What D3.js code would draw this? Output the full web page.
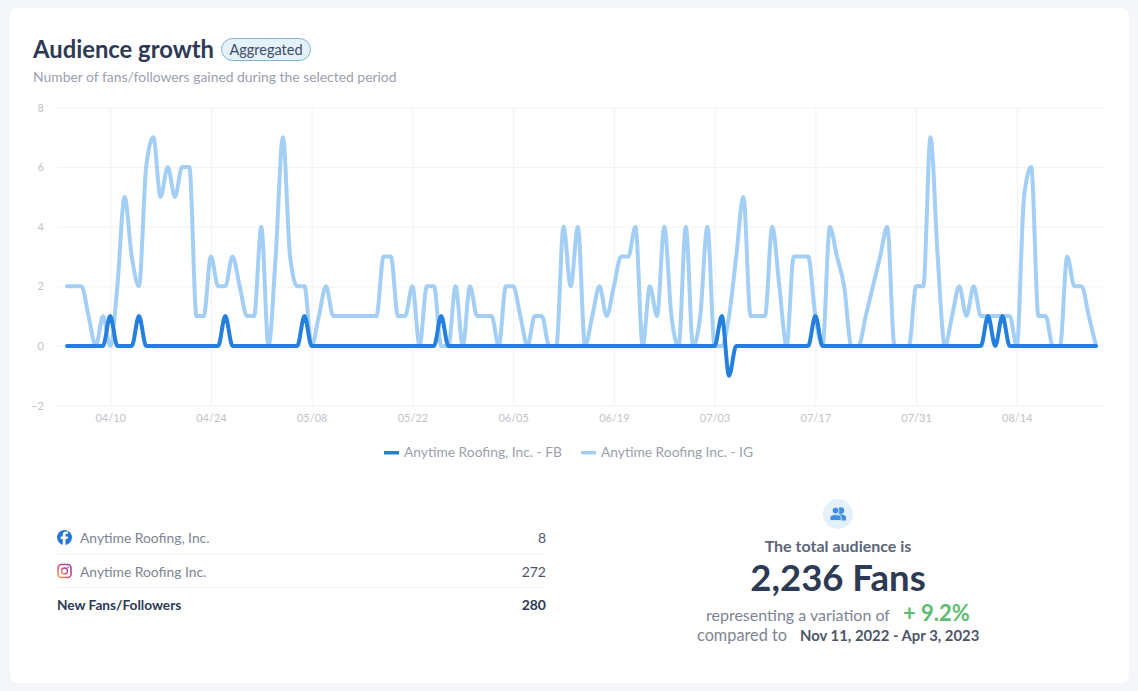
<!DOCTYPE html>
<html>
<head>
<meta charset="utf-8">
<title>Audience growth</title>
<script src="https://cdn.jsdelivr.net/npm/d3@7"></script>
<style>
  body { margin: 0; background: #f5f6f9; }
  svg { display: block; }
  text { font-family: Lato, "Noto Sans", sans-serif; }
  .domain { display: none; }
</style>
</head>
<body>
<div id="chart"></div>
<script>
const startDate = '2023-04-04';
const tickDates = ['2023-04-10', '2023-04-24', '2023-05-08', '2023-05-22', '2023-06-05',
  '2023-06-19', '2023-07-03', '2023-07-17', '2023-07-31', '2023-08-14'];
const yTicks = [-2, 0, 2, 4, 6, 8];

// one value per day from 04/04 to 08/25
const igValues = [
  2, 2, 2, 1, 0, 1, 0, 2, 5, 3, 2, 6, 7, 5, 6, 5, 6, 6, 1, 1,
  3, 2, 2, 3, 2, 1, 1, 4, 0, 3, 7, 3, 2, 2, 0, 1, 2, 1, 1, 1,
  1, 1, 1, 1, 3, 3, 1, 1, 2, 0, 2, 2, 0, 0, 2, 0, 2, 1, 1, 1,
  0, 2, 2, 1, 0, 1, 1, 0, 0, 4, 2, 4, 0, 1, 2, 1, 2, 3, 3, 4,
  0, 2, 1, 4, 1, 0, 4, 0, 1, 4, 0, 0, 1, 3, 5, 1, 1, 1, 4, 2,
  0, 3, 3, 3, 1, 0, 4, 3, 2, 0, 0, 1, 2, 3, 4, 0, 0, 0, 2, 2,
  7, 3, 0, 1, 2, 1, 2, 1, 1, 1, 1, 1, 0, 5, 6, 1, 1, 0, 0, 3,
  2, 2, 1, 0
];
const fbValues = [
  0, 0, 0, 0, 0, 0, 1, 0, 0, 0, 1, 0, 0, 0, 0, 0, 0, 0, 0, 0,
  0, 0, 1, 0, 0, 0, 0, 0, 0, 0, 0, 0, 0, 1, 0, 0, 0, 0, 0, 0,
  0, 0, 0, 0, 0, 0, 0, 0, 0, 0, 0, 0, 1, 0, 0, 0, 0, 0, 0, 0,
  0, 0, 0, 0, 0, 0, 0, 0, 0, 0, 0, 0, 0, 0, 0, 0, 0, 0, 0, 0,
  0, 0, 0, 0, 0, 0, 0, 0, 0, 0, 0, 1, -1, 0, 0, 0, 0, 0, 0, 0,
  0, 0, 0, 0, 1, 0, 0, 0, 0, 0, 0, 0, 0, 0, 0, 0, 0, 0, 0, 0,
  0, 0, 0, 0, 0, 0, 0, 0, 1, 0, 1, 0, 0, 0, 0, 0, 0, 0, 0, 0,
  0, 0, 0, 0
];
const seriesNames = ['Anytime Roofing, Inc. - FB', 'Anytime Roofing Inc. - IG'];
const tableNames = ['Anytime Roofing, Inc.', 'Anytime Roofing Inc.', 'New Fans/Followers'];
const tableValues = [8, 272, 280];

const width = 1138;
const height = 691;
const FB_COLOR = '#2580dd';
const IG_COLOR = '#a4cff5';
const DARK = '#2d3a56';

const parseDate = d3.utcParse('%Y-%m-%d');
const days = igValues.map((v, i) => d3.utcDay.offset(parseDate(startDate), i));

const svg = d3.select('#chart').append('svg')
  .attr('width', width)
  .attr('height', height);

svg.append('rect')
  .attr('x', 10).attr('y', 8)
  .attr('width', 1119).attr('height', 675)
  .attr('rx', 8)
  .attr('fill', '#fff');

function addText(x, y, str, size, color, weight, anchor) {
  return svg.append('text')
    .attr('x', x)
    .attr('y', y)
    .attr('font-size', size)
    .attr('font-weight', weight || 400)
    .attr('fill', color)
    .attr('text-anchor', anchor || 'start')
    .text(str);
}

// header
addText(33, 58, 'Audience growth', 23.8, DARK, 700);
svg.append('rect')
  .attr('x', 221.5).attr('y', 38.5)
  .attr('width', 89).attr('height', 22)
  .attr('rx', 11)
  .attr('fill', '#e4f2fc')
  .attr('stroke', '#7fb5d9');
addText(266, 54.5, 'Aggregated', 14.5, '#3e4c68', 400, 'middle');
addText(33, 81.5, 'Number of fans/followers gained during the selected period', 13.9, '#9aa1b0');

// chart
const x = d3.scaleUtc()
  .domain([days[0], days[days.length - 1]])
  .range([67, 1096]);
const y = d3.scaleLinear()
  .domain([-2, 8])
  .range([405.5, 107.5]);

const xAxis = svg.append('g')
  .attr('transform', 'translate(0,405.5)')
  .call(d3.axisBottom(x)
    .tickValues(tickDates.map(parseDate))
    .tickFormat(d3.utcFormat('%m/%d'))
    .tickSize(-298)
    .tickPadding(9));
xAxis.selectAll('line').attr('stroke', '#eff1f4');
xAxis.selectAll('text').attr('fill', '#bfc3cb').attr('font-size', 11);

const yAxis = svg.append('g')
  .attr('transform', 'translate(58,0)')
  .call(d3.axisLeft(y)
    .tickValues(yTicks)
    .tickFormat(d3.format('d'))
    .tickSize(-1048)
    .tickPadding(14));
yAxis.selectAll('line').attr('stroke', '#f1f2f5');
yAxis.selectAll('text').attr('fill', '#bfc3cb').attr('font-size', 11);

const line = d3.line()
  .x((d, i) => x(days[i]))
  .y(d => y(d))
  .curve(d3.curveMonotoneX);

[[igValues, IG_COLOR], [fbValues, FB_COLOR]].forEach(([values, color]) => {
  svg.append('path')
    .attr('d', line(values))
    .attr('fill', 'none')
    .attr('stroke', color)
    .attr('stroke-width', 4)
    .attr('stroke-linecap', 'round')
    .attr('stroke-linejoin', 'round');
});

// legend
[[384, FB_COLOR], [581, IG_COLOR]].forEach(([lx, color], i) => {
  svg.append('rect')
    .attr('x', lx).attr('y', 451)
    .attr('width', 15).attr('height', 3.5)
    .attr('fill', color);
  addText(lx + 20, 457, seriesNames[i], 13.8, '#9aa1b0');
});

// table
const rowY = [543, 576.5, 610];
tableNames.forEach((name, i) => {
  const bold = i === 2;
  addText(bold ? 57 : 80, rowY[i] - (bold ? 0.5 : 0), name, bold ? 13.7 : 13.85, bold ? DARK : '#7d8594', bold ? 700 : 400);
  addText(546, rowY[i], tableValues[i], 14, bold ? DARK : '#4d5669', bold ? 700 : 400, 'end');
});
[554.5, 587.5].forEach(ly => {
  svg.append('line')
    .attr('x1', 57).attr('x2', 546)
    .attr('y1', ly).attr('y2', ly)
    .attr('stroke', '#f3f4f6');
});

// facebook icon
const fb = svg.append('g').attr('transform', 'translate(64.5,537.5)');
fb.append('circle').attr('r', 7.5).attr('fill', '#2277d8');
fb.append('path')
  .attr('d', 'M1,7.5V1.5H3L3.4,-1H1V-2.4C1,-3.2 1.4,-3.7 2.3,-3.7H3.5V-5.9C3,-6 2.2,-6 1.6,-6C-0.6,-6 -1.8,-4.8 -1.8,-2.7V-1H-3.8V1.5H-1.8V7.5Z')
  .attr('fill', '#fff');

// instagram icon
const igGradient = svg.append('defs').append('linearGradient')
  .attr('id', 'ig-gradient')
  .attr('x1', 0).attr('y1', 1).attr('x2', 1).attr('y2', 0);
igGradient.append('stop').attr('offset', 0).attr('stop-color', '#f2a356');
igGradient.append('stop').attr('offset', 0.5).attr('stop-color', '#d8447c');
igGradient.append('stop').attr('offset', 1).attr('stop-color', '#8a3fb0');
const ig = svg.append('g').attr('transform', 'translate(64.5,571)');
ig.append('rect')
  .attr('x', -6.5).attr('y', -6.5)
  .attr('width', 13).attr('height', 13)
  .attr('rx', 3.5)
  .attr('fill', 'none')
  .attr('stroke', 'url(#ig-gradient)')
  .attr('stroke-width', 1.6);
ig.append('circle')
  .attr('r', 3)
  .attr('fill', 'none')
  .attr('stroke', 'url(#ig-gradient)')
  .attr('stroke-width', 1.4);
ig.append('circle').attr('cx', 3.6).attr('cy', -3.6).attr('r', 0.8).attr('fill', '#a8409c');

// audience panel
const badge = svg.append('g').attr('transform', 'translate(838,514)');
badge.append('circle').attr('r', 15).attr('fill', '#e4f1fb');
// right person first, left person overlaps it with a pale outline
badge.append('circle').attr('cx', 2.8).attr('cy', -3.4).attr('r', 3.4).attr('fill', '#3f8fe2');
badge.append('path')
  .attr('d', 'M-2.5,6.5V3.6C-2.5,1.4 0,0.6 2.8,0.6C5.6,0.6 8,1.4 8,3.6V6.5Z')
  .attr('fill', '#3f8fe2');
badge.append('circle')
  .attr('cx', -2.4).attr('cy', -3.4).attr('r', 3.4)
  .attr('fill', '#3f8fe2')
  .attr('stroke', '#e4f1fb').attr('stroke-width', 0.9);
badge.append('path')
  .attr('d', 'M-8,6.5V3.6C-8,1.4 -5.4,0.6 -2.4,0.6C0.6,0.6 3.2,1.4 3.2,3.6V6.5Z')
  .attr('fill', '#3f8fe2')
  .attr('stroke', '#e4f1fb').attr('stroke-width', 0.9);

addText(838, 551.5, 'The total audience is', 16, '#5b6579', 700, 'middle');
addText(838, 591, '2,236 Fans', 36.5, DARK, 700, 'middle');
addText(706, 621, 'representing a variation of', 16, '#7d8594');
addText(903, 621, '+ 9.2%', 22, '#60bb70', 700);
addText(697, 641, 'compared to', 16.3, '#7d8594');
addText(800, 641, 'Nov 11, 2022 - Apr 3, 2023', 14.85, '#4d5669', 700);
</script>
</body>
</html>
